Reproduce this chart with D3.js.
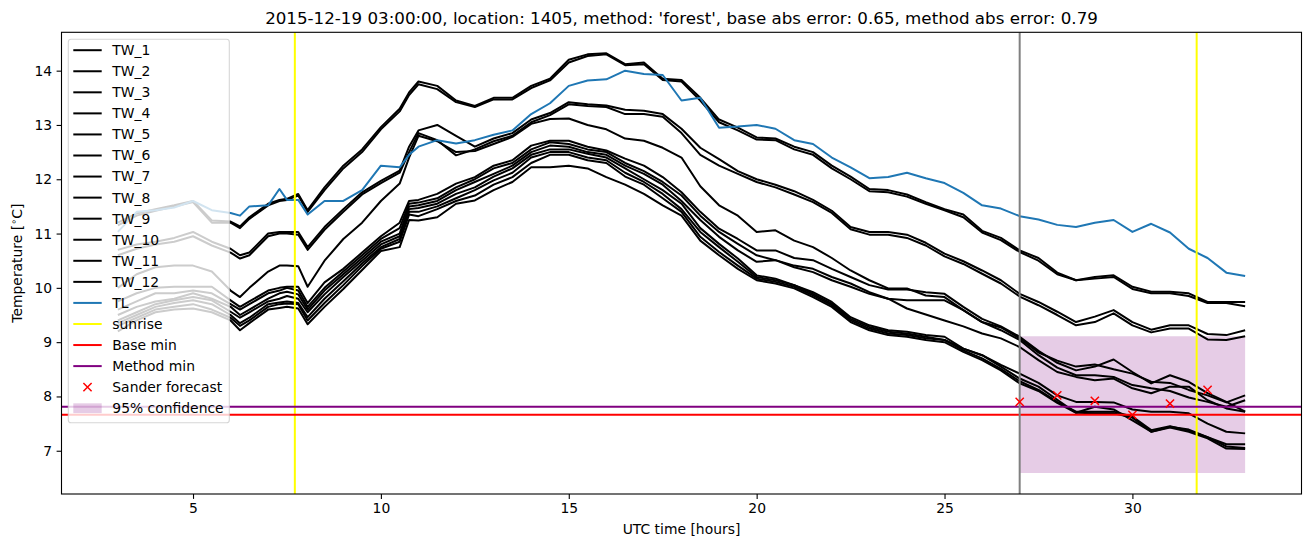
<!DOCTYPE html>
<html>
<head>
<meta charset="utf-8">
<script src="https://cdn.jsdelivr.net/npm/d3@7"></script>
<style>
  html, body { margin: 0; padding: 0; background: #fff; }
  svg { display: block; font-family: "DejaVu Sans", sans-serif; }
</style>
</head>
<body>
<svg id="chart" width="1311" height="547"></svg>
<script>
// ---------------- data ----------------
const hours = [3, 3.5, 4, 4.5, 5, 5.5, 6, 6.25, 6.5, 7, 7.3, 7.5, 7.8, 8.05, 8.5, 9, 9.5, 10, 10.5, 10.75,
  11, 11.5, 12, 12.5, 13, 13.5, 14, 14.5, 15, 15.5, 16, 16.5, 17, 17.5, 18, 18.5, 19, 19.5, 20, 20.5,
  21, 21.5, 22, 22.5, 23, 23.5, 24, 24.5, 25, 25.5, 26, 26.5, 27, 27.5, 28, 28.5, 29, 29.5, 30, 30.5,
  31, 31.5, 32, 32.5, 33];

const TW_1 = [11.2, 11.37, 11.45, 11.52, 11.6, 11.24, 11.22, 11.13, 11.3, 11.55, 11.62, 11.64, 11.73, 11.43, 11.85, 12.25, 12.55, 12.96, 13.3, 13.6,
  13.8, 13.72, 13.45, 13.35, 13.5, 13.5, 13.72, 13.85, 14.2, 14.3, 14.32, 14.12, 14.15, 13.85, 13.83, 13.5, 13.1, 12.95, 12.77, 12.75,
  12.6, 12.5, 12.25, 12.05, 11.82, 11.8, 11.72, 11.58, 11.45, 11.35, 11.05, 10.92, 10.69, 10.55, 10.28, 10.14, 10.2, 10.23, 10.02, 9.93,
  9.93, 9.9, 9.74, 9.74, 9.74];
const TW_2 = [11.15, 11.33, 11.42, 11.5, 11.58, 11.2, 11.2, 11.1, 11.27, 11.52, 11.6, 11.62, 11.7, 11.4, 11.8, 12.2, 12.5, 12.92, 13.25, 13.55,
  13.75, 13.66, 13.42, 13.33, 13.47, 13.47, 13.68, 13.82, 14.15, 14.27, 14.3, 14.1, 14.12, 13.83, 13.8, 13.45, 13.05, 12.9, 12.73, 12.72,
  12.55, 12.45, 12.2, 12.0, 11.78, 11.76, 11.68, 11.55, 11.43, 11.3, 11.02, 10.88, 10.66, 10.5, 10.25, 10.14, 10.17, 10.2, 9.98, 9.9,
  9.9, 9.85, 9.72, 9.72, 9.66];
const TW_3 = [10.7, 10.8, 10.85, 10.92, 11.03, 10.85, 10.72, 10.6, 10.65, 11.0, 11.03, 11.03, 11.03, 10.75, 11.12, 11.45, 11.76, 11.97, 12.16, 12.6,
  12.9, 13.0, 12.8, 12.6, 12.75, 12.85, 13.1, 13.22, 13.42, 13.38, 13.36, 13.28, 13.26, 13.2, 12.93, 12.58, 12.37, 12.15, 12.0, 11.9,
  11.78, 11.62, 11.42, 11.12, 11.03, 11.03, 10.98, 10.83, 10.63, 10.49, 10.32, 10.14, 9.89, 9.74, 9.56, 9.37, 9.47, 9.59, 9.37, 9.23,
  9.31, 9.31, 9.15, 9.13, 9.22];
const TW_4 = [10.6, 10.72, 10.8, 10.85, 10.95, 10.78, 10.65, 10.54, 10.6, 10.95, 11.0, 11.0, 10.98, 10.7, 11.07, 11.4, 11.72, 11.93, 12.12, 12.5,
  12.85, 12.72, 12.44, 12.55, 12.7, 12.8, 13.05, 13.18, 13.38, 13.35, 13.33, 13.2, 13.2, 13.15, 12.85, 12.45, 12.25, 12.1, 11.95, 11.85,
  11.72, 11.58, 11.38, 11.08, 10.98, 10.98, 10.92, 10.78, 10.58, 10.44, 10.26, 10.08, 9.84, 9.68, 9.5, 9.31, 9.37, 9.53, 9.31, 9.18,
  9.25, 9.25, 9.05, 9.04, 9.11];
const TW_5 = [10.0, 10.25, 10.38, 10.41, 10.41, 10.3, 9.95, 9.83, 10.0, 10.3, 10.41, 10.41, 10.4, 10.02, 10.5, 10.9, 11.2, 11.6, 11.92, 12.4,
  12.8, 12.7, 12.5, 12.52, 12.65, 12.78, 13.02, 13.11, 13.12, 13.0, 12.92, 12.75, 12.71, 12.58, 12.4, 11.87, 11.52, 11.33, 11.03, 11.06,
  10.87, 10.75, 10.55, 10.32, 10.14, 9.99, 9.99, 9.86, 9.83, 9.59, 9.37, 9.27, 9.07, 8.81, 8.66, 8.55, 8.59, 8.5, 8.42, 8.27,
  8.25, 8.12, 8.02, 7.89, 8.02];
const TW_6 = [9.75, 9.9, 10.0, 10.02, 10.02, 10.02, 9.77, 9.65, 9.75, 9.95, 10.0, 10.02, 10.02, 9.72, 10.1, 10.35, 10.65, 10.95, 11.2, 11.6,
  11.62, 11.73, 11.92, 12.04, 12.25, 12.35, 12.62, 12.71, 12.71, 12.6, 12.53, 12.38, 12.25, 12.04, 11.76, 11.4, 11.09, 10.9, 10.69, 10.69,
  10.55, 10.51, 10.35, 10.2, 10.05, 9.97, 9.97, 9.92, 9.89, 9.65, 9.43, 9.29, 9.1, 8.84, 8.62, 8.48, 8.55, 8.68, 8.45, 8.24,
  8.39, 8.27, 8.06, 7.9, 7.72];
const TW_7 = [9.6, 9.75, 9.9, 9.9, 9.95, 9.9, 9.7, 9.6, 9.7, 9.9, 9.95, 10.0, 9.95, 9.65, 10.0, 10.3, 10.6, 10.9, 11.1, 11.55,
  11.57, 11.65, 11.85, 12.0, 12.2, 12.3, 12.55, 12.68, 12.65, 12.55, 12.5, 12.3, 12.15, 11.95, 11.7, 11.33, 11.03, 10.81, 10.6, 10.51,
  10.41, 10.35, 10.2, 10.08, 9.92, 9.8, 9.77, 9.77, 9.77, 9.59, 9.37, 9.22, 9.04, 8.76, 8.53, 8.39, 8.39, 8.36, 8.21, 8.15,
  8.1, 7.98, 7.9, 7.81, 7.93];
const TW_8 = [9.5, 9.65, 9.75, 9.8, 9.9, 9.8, 9.65, 9.5, 9.6, 9.8, 9.9, 9.93, 9.88, 9.6, 9.95, 10.25, 10.55, 10.85, 11.0, 11.5,
  11.52, 11.6, 11.8, 11.95, 12.1, 12.25, 12.5, 12.62, 12.6, 12.5, 12.45, 12.25, 12.1, 11.9, 11.6, 11.25, 10.94, 10.69, 10.48, 10.51,
  10.38, 10.29, 10.14, 10.02, 9.89, 9.8, 9.62, 9.51, 9.4, 9.29, 9.16, 9.07, 8.91, 8.67, 8.45, 8.36, 8.3, 8.33, 8.15, 8.06,
  8.18, 8.18, 7.93, 7.78, 7.72];
const TW_9 = [9.4, 9.55, 9.7, 9.77, 9.83, 9.77, 9.56, 9.45, 9.55, 9.75, 9.8, 9.85, 9.8, 9.55, 9.88, 10.2, 10.5, 10.8, 10.95, 11.45,
  11.47, 11.55, 11.73, 11.85, 12.05, 12.2, 12.45, 12.55, 12.55, 12.47, 12.4, 12.2, 12.0, 11.8, 11.55, 11.1, 10.81, 10.54, 10.23, 10.17,
  10.05, 9.92, 9.74, 9.46, 9.31, 9.22, 9.19, 9.13, 9.1, 8.88, 8.76, 8.58, 8.42, 8.25, 8.02, 7.9, 7.9, 7.89, 7.76, 7.72,
  7.72, 7.69, 7.5, 7.35, 7.32];
const TW_10 = [9.35, 9.5, 9.65, 9.72, 9.77, 9.7, 9.5, 9.35, 9.45, 9.7, 9.73, 9.75, 9.72, 9.46, 9.8, 10.12, 10.45, 10.75, 10.9, 11.4,
  11.4, 11.5, 11.65, 11.8, 11.98, 12.12, 12.4, 12.5, 12.5, 12.4, 12.35, 12.12, 11.95, 11.73, 11.45, 11.03, 10.75, 10.48, 10.2, 10.14,
  10.05, 9.89, 9.71, 9.43, 9.28, 9.19, 9.16, 9.1, 9.04, 8.88, 8.76, 8.55, 8.33, 8.18, 7.94, 7.7, 7.81, 7.76, 7.56, 7.35,
  7.44, 7.39, 7.25, 7.12, 7.12];
const TW_11 = [9.3, 9.45, 9.6, 9.65, 9.7, 9.6, 9.45, 9.3, 9.4, 9.65, 9.7, 9.71, 9.7, 9.4, 9.72, 10.05, 10.4, 10.72, 10.85, 11.35,
  11.32, 11.45, 11.6, 11.7, 11.9, 12.04, 12.3, 12.45, 12.45, 12.35, 12.3, 12.05, 11.9, 11.65, 11.4, 10.94, 10.66, 10.41, 10.17, 10.11,
  10.02, 9.86, 9.68, 9.4, 9.25, 9.16, 9.13, 9.07, 9.04, 8.85, 8.7, 8.51, 8.28, 8.12, 7.9, 7.72, 7.72, 7.72, 7.63, 7.38,
  7.45, 7.37, 7.25, 7.08, 7.05];
const TW_12 = [9.2, 9.4, 9.55, 9.6, 9.62, 9.55, 9.4, 9.22, 9.35, 9.6, 9.63, 9.65, 9.62, 9.33, 9.65, 9.98, 10.33, 10.68, 10.75, 11.25,
  11.24, 11.3, 11.55, 11.61, 11.8, 11.95, 12.22, 12.22, 12.25, 12.2, 12.04, 11.9, 11.73, 11.52, 11.33, 10.87, 10.6, 10.35, 10.14, 10.08,
  9.99, 9.83, 9.65, 9.37, 9.22, 9.13, 9.1, 9.04, 9.0, 8.82, 8.67, 8.48, 8.24, 8.1, 7.88, 7.7, 7.69, 7.69, 7.61, 7.35,
  7.43, 7.35, 7.23, 7.04, 7.03];
const TL = [11.03, 11.4, 11.43, 11.48, 11.6, 11.43, 11.38, 11.33, 11.5, 11.52, 11.82, 11.62, 11.62, 11.35, 11.6, 11.6, 11.8, 12.25, 12.22, 12.45,
  12.6, 12.72, 12.66, 12.72, 12.82, 12.9, 13.2, 13.4, 13.72, 13.82, 13.84, 14.0, 13.94, 13.92, 13.45, 13.5, 12.95, 12.97, 13.0, 12.93,
  12.72, 12.65, 12.4, 12.22, 12.02, 12.04, 12.12, 12.02, 11.93, 11.75, 11.52, 11.46, 11.32, 11.26, 11.16, 11.12, 11.2, 11.25, 11.03, 11.18,
  11.02, 10.72, 10.55, 10.28, 10.22];

const twNames = ["TW_1", "TW_2", "TW_3", "TW_4", "TW_5", "TW_6", "TW_7", "TW_8", "TW_9", "TW_10", "TW_11", "TW_12"];
const twValues = [TW_1, TW_2, TW_3, TW_4, TW_5, TW_6, TW_7, TW_8, TW_9, TW_10, TW_11, TW_12];

const sunriseHours = [7.71, 31.71];
const forecastStartHour = [27];
const baseMin = [7.663];
const methodMin = [7.81];
const sanderHours = [27, 28, 29, 30, 31, 32];
const sanderValues = [7.9, 8.02, 7.92, 7.66, 7.87, 8.12];
const confHours = [27, 33];
const confLow = [6.59, 6.59];
const confHigh = [9.11, 9.11];

const xTicks = [5, 10, 15, 20, 25, 30];
const yTicks = [7, 8, 9, 10, 11, 12, 13, 14];
const legendLabels = [...twNames, "TL", "sunrise", "Base min", "Method min", "Sander forecast", "95% confidence"];
const titleText = "2015-12-19 03:00:00, location: 1405, method: 'forest', base abs error: 0.65, method abs error: 0.79";

// ---------------- layout ----------------
const svg = d3.select("#chart");
const W = 1311, H = 547;
const plot = { left: 61.5, right: 1301.5, top: 32.3, bottom: 494 };
const FS = 13.9;

svg.append("rect").attr("width", W).attr("height", H).attr("fill", "#fff");

// domains with matplotlib-like 5% margins
const allY = [].concat(...twValues, TL, confLow, confHigh);
const yMin = d3.min(allY), yMax = d3.max(allY);
const yPad = (yMax - yMin) * 0.05;
const xMin = d3.min(hours), xMax = d3.max(hours);
const xPad = (xMax - xMin) * 0.05;

const x = d3.scaleLinear().domain([xMin - xPad, xMax + xPad]).range([plot.left, plot.right]);
const y = d3.scaleLinear().domain([yMin - yPad, yMax + yPad]).range([plot.bottom, plot.top]);

svg.append("clipPath").attr("id", "clip").append("rect")
  .attr("x", plot.left).attr("y", plot.top)
  .attr("width", plot.right - plot.left).attr("height", plot.bottom - plot.top);

const g = svg.append("g").attr("clip-path", "url(#clip)");

// confidence band
const area = d3.area().x((d, i) => x(confHours[i])).y0((d, i) => y(confLow[i])).y1((d, i) => y(confHigh[i]));
g.append("path").datum(confHours).attr("d", area)
  .attr("fill", "purple").attr("fill-opacity", 0.2);

// TW lines
const line = d3.line().x((d, i) => x(hours[i])).y(d => y(d));
twValues.forEach(vals => {
  g.append("path").datum(vals).attr("d", line)
    .attr("fill", "none").attr("stroke", "#000").attr("stroke-width", 2)
    .attr("stroke-linejoin", "round");
});
// TL
g.append("path").datum(TL).attr("d", line)
  .attr("fill", "none").attr("stroke", "#1f77b4").attr("stroke-width", 2)
  .attr("stroke-linejoin", "round");

// sunrise
sunriseHours.forEach(h => {
  g.append("line").attr("x1", x(h)).attr("x2", x(h)).attr("y1", plot.top).attr("y2", plot.bottom)
    .attr("stroke", "yellow").attr("stroke-width", 2);
});
// base / method min
g.append("line").attr("x1", plot.left).attr("x2", plot.right).attr("y1", y(baseMin[0])).attr("y2", y(baseMin[0]))
  .attr("stroke", "red").attr("stroke-width", 2);
g.append("line").attr("x1", plot.left).attr("x2", plot.right).attr("y1", y(methodMin[0])).attr("y2", y(methodMin[0]))
  .attr("stroke", "purple").attr("stroke-width", 2);

// forecast start
g.append("line").attr("x1", x(forecastStartHour[0])).attr("x2", x(forecastStartHour[0]))
  .attr("y1", plot.top).attr("y2", plot.bottom).attr("stroke", "grey").attr("stroke-width", 2);

// Sander forecast markers
const ms = 4.1;
sanderHours.forEach((h, i) => {
  const cx = x(h), cy = y(sanderValues[i]);
  g.append("path").attr("d", `M${cx - ms},${cy - ms}L${cx + ms},${cy + ms}M${cx - ms},${cy + ms}L${cx + ms},${cy - ms}`)
    .attr("stroke", "red").attr("stroke-width", 1.5).attr("fill", "none");
});

// ---------------- axes ----------------
const xAxis = d3.axisBottom(x).tickValues(xTicks).tickSize(4.9).tickPadding(4.5).tickFormat(d3.format("d"));
const yAxis = d3.axisLeft(y).tickValues(yTicks).tickSize(4.9).tickPadding(4.5).tickFormat(d3.format("d"));

const gx = svg.append("g").attr("transform", `translate(0,${plot.bottom})`).call(xAxis);
const gy = svg.append("g").attr("transform", `translate(${plot.left},0)`).call(yAxis);
[gx, gy].forEach(ax => {
  ax.select(".domain").remove();
  ax.selectAll(".tick line").attr("stroke", "#000").attr("stroke-width", 1.1);
  ax.selectAll(".tick text").attr("fill", "#000").style("font-size", FS + "px")
    .style("font-family", "DejaVu Sans");
});

// frame
svg.append("rect").attr("x", plot.left).attr("y", plot.top)
  .attr("width", plot.right - plot.left).attr("height", plot.bottom - plot.top)
  .attr("fill", "none").attr("stroke", "#000").attr("stroke-width", 1.1);

// labels
svg.append("text").attr("x", (plot.left + plot.right) / 2).attr("y", 534)
  .attr("text-anchor", "middle").style("font-size", FS + "px").text("UTC time [hours]");

const yl = svg.append("text")
  .attr("transform", `translate(22,${(plot.top + plot.bottom) / 2}) rotate(-90)`)
  .attr("text-anchor", "middle").style("font-size", FS + "px");
yl.append("tspan").text("Temperature [");
yl.append("tspan").attr("dy", -5).style("font-size", "9.7px").text("∘");
yl.append("tspan").attr("dy", 5).text("C]");

svg.append("text").attr("x", (plot.left + plot.right) / 2).attr("y", 24)
  .attr("text-anchor", "middle").style("font-size", "16.7px").text(titleText);

// ---------------- legend ----------------
const lg = svg.append("g");
lg.append("rect").attr("x", 68.3).attr("y", 39.3).attr("width", 161).attr("height", 383.4)
  .attr("rx", 2.8).attr("fill", "#fff").attr("fill-opacity", 0.8)
  .attr("stroke", "#cccccc").attr("stroke-opacity", 0.8).attr("stroke-width", 1.1);

const legColors = [...twNames.map(() => "#000"), "#1f77b4", "yellow", "red", "purple"];
legendLabels.forEach((lab, i) => {
  const cy = 50.2 + i * 21.06;
  if (i < legColors.length) {
    lg.append("line").attr("x1", 73.3).attr("x2", 101.7).attr("y1", cy).attr("y2", cy)
      .attr("stroke", legColors[i]).attr("stroke-width", 2);
  } else if (lab === "Sander forecast") {
    const cx = 87.5;
    lg.append("path").attr("d", `M${cx - ms},${cy - ms}L${cx + ms},${cy + ms}M${cx - ms},${cy + ms}L${cx + ms},${cy - ms}`)
      .attr("stroke", "red").attr("stroke-width", 1.5).attr("fill", "none");
  } else {
    lg.append("rect").attr("x", 73.3).attr("y", cy - 4.9).attr("width", 28.4).attr("height", 9.8)
      .attr("fill", "purple").attr("fill-opacity", 0.2);
  }
  lg.append("text").attr("x", 112.3).attr("y", cy + 4.9).style("font-size", FS + "px").text(lab);
});
</script>
</body>
</html>
